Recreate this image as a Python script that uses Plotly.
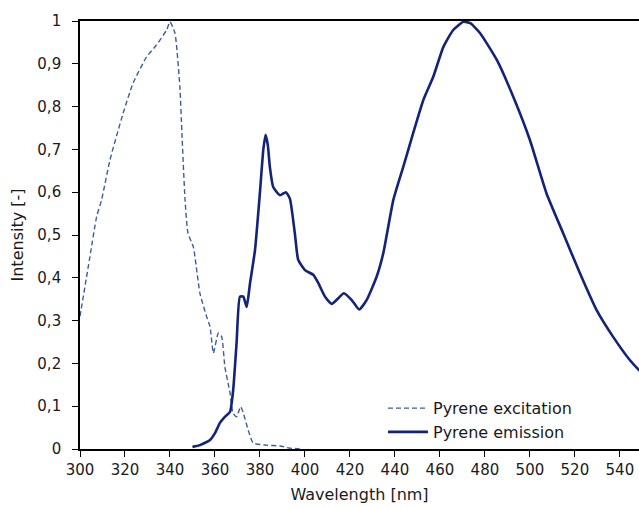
import plotly.graph_objects as go

exc_x = [300, 304.4, 307.4, 309.6, 313.3, 319.2, 323.6, 329.6, 334, 338.5, 340, 342.2,
         344.4, 345.3, 346.7, 348, 350.4, 353.3, 356.3, 357.8, 359.3, 361.5, 363, 364.4,
         366.7, 368, 369.6, 371.4, 372.6, 374.8, 377, 382.9, 388.9, 393.3, 399]
exc_y = [0.31, 0.449, 0.543, 0.582, 0.675, 0.785, 0.855, 0.916, 0.944, 0.979, 0.998, 0.972,
         0.846, 0.738, 0.582, 0.504, 0.472, 0.364, 0.309, 0.286, 0.224, 0.271, 0.262, 0.192,
         0.131, 0.084, 0.075, 0.099, 0.084, 0.044, 0.014, 0.009, 0.007, 0.002, 0.0]

em_x = [350, 353.3, 357.8, 360, 362.2, 364.4, 366.7, 368.1, 369.6, 371.1, 372.6, 374.1,
        375.6, 377.8, 380, 381.5, 382.5, 383.5, 384.4, 385.9, 388.9, 391.5, 393.3, 395.5,
        397, 400, 403.7, 405.9, 408.9, 411.9, 414.8, 417.3, 420.8, 424.1, 427.4, 431.9,
        434.8, 439.3, 443.7, 448.1, 452.6, 457, 461.5, 465.9, 470.4, 473.5, 477.8, 485.3,
        492.6, 500, 507.4, 514.8, 522.2, 529.6, 537, 544.4, 548.4, 550]
em_y = [0.005, 0.009, 0.021, 0.037, 0.061, 0.075, 0.087, 0.138, 0.247, 0.356, 0.356, 0.332,
        0.388, 0.465, 0.60, 0.70, 0.734, 0.71, 0.659, 0.612, 0.593, 0.600, 0.585, 0.504,
        0.442, 0.418, 0.407, 0.388, 0.356, 0.339, 0.352, 0.364, 0.348, 0.326, 0.348, 0.403,
        0.457, 0.582, 0.659, 0.738, 0.815, 0.869, 0.939, 0.979, 0.998, 0.995, 0.972, 0.909,
        0.823, 0.722, 0.597, 0.504, 0.411, 0.325, 0.262, 0.208, 0.185, 0.177]

x_ticks = list(range(300, 541, 20))
y_ticks = [round(i * 0.1, 1) for i in range(11)]

FONT = "DejaVu Sans"

fig = go.Figure()
fig.add_trace(go.Scatter(x=exc_x, y=exc_y, mode="lines", name="Pyrene excitation",
                         line=dict(color="#3E5C99", width=1.4, dash="5px,3px", shape="spline", smoothing=0.5)))
fig.add_trace(go.Scatter(x=em_x, y=em_y, mode="lines", name="Pyrene emission",
                         line=dict(color="#13237A", width=2.6, shape="spline", smoothing=0.5)))

fig.update_layout(
    width=639, height=507,
    margin=dict(l=80, r=0, t=21, b=58),
    paper_bgcolor="white", plot_bgcolor="white",
    separators=", ",
    font=dict(family=FONT, size=15, color="#1a1a1a"),
    showlegend=True,
    legend=dict(x=0.542, y=0.135, xanchor="left", yanchor="top", itemwidth=40,
                bgcolor="rgba(0,0,0,0)", font=dict(family=FONT, size=16, color="#1a1a1a"),
                tracegroupgap=0),
    xaxis=dict(range=[300, 548.5], tickvals=x_ticks, ticks="outside", ticklen=6,
               tickwidth=1.3, tickcolor="black", showline=True, linecolor="black",
               linewidth=1.6, mirror=True, showgrid=False, zeroline=False,
               automargin=False, tickfont=dict(size=15),
               title=dict(text="Wavelength [nm]", font=dict(size=16), standoff=11)),
    yaxis=dict(range=[0, 1], tickvals=y_ticks, ticks="outside", ticklen=6,
               tickwidth=1.3, tickcolor="black", showline=True, linecolor="black",
               linewidth=1.6, showgrid=False, zeroline=False, ticklabelstandoff=8,
               automargin=False, tickfont=dict(size=15),
               title=dict(text="Intensity [-]", font=dict(size=16), standoff=10)),
)

fig.write_html("out.html", config={"displayModeBar": False},
               post_script="document.body.style.margin='0';document.body.style.overflow='hidden';")
